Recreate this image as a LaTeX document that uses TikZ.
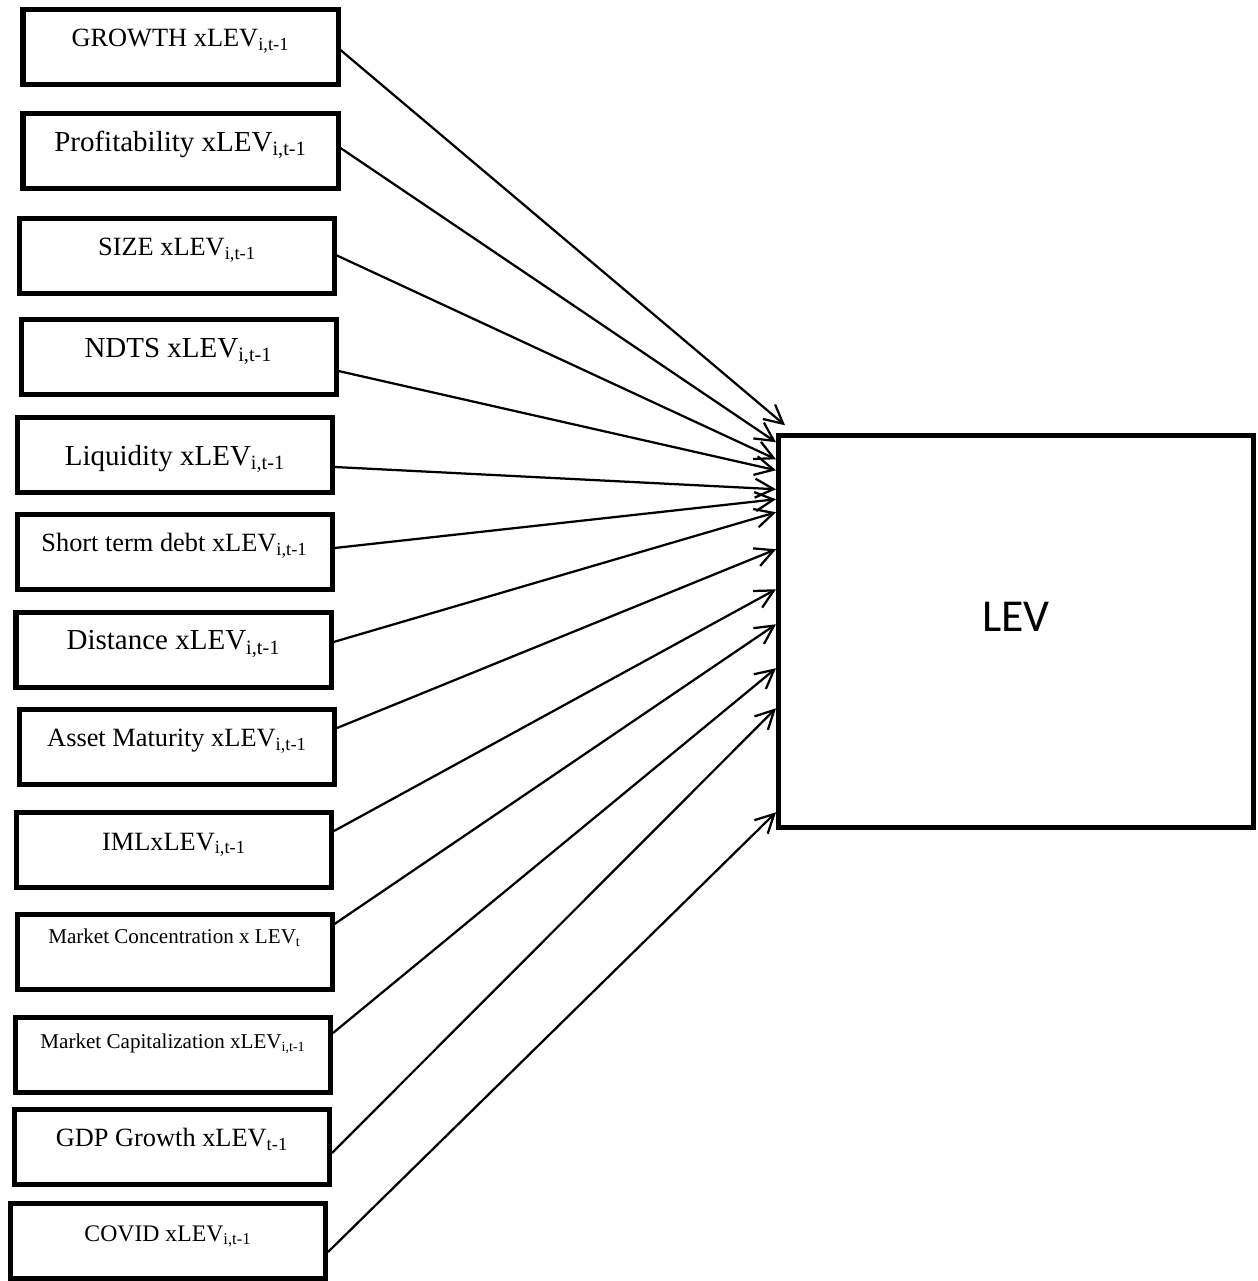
\documentclass[tikz,border=0pt]{standalone}
\usepackage{fontspec}
\setmainfont{Liberation Serif}
\newfontfamily\calibri{Carlito}
\usetikzlibrary{arrows.meta}

\begin{document}
\begin{tikzpicture}[
    factor/.style={rectangle,draw,line width=0.1cm,minimum width=6.3cm,minimum height=1.5cm,
      inner sep=0pt,text height=0.75cm,text depth=0.75cm,font=\fontsize{15}{18}\selectfont},
    bigtext/.style={font=\fontsize{16.5}{19}\selectfont},
    smalltext/.style={font=\fontsize{13.5}{16}\selectfont},
    tinytext/.style={font=\fontsize{12}{14}\selectfont},
    target/.style={rectangle,draw,line width=0.1cm,minimum width=9.5cm,minimum height=7.85cm,
      inner sep=0pt,text height=3.92cm,text depth=3.93cm,font=\calibri\fontsize{26}{30}\selectfont},
    arr/.style={-{Straight Barb[length=0.37cm,width=0.38cm]},line width=0.045cm}]

\useasboundingbox (0,0) rectangle (25.16,-25.62);

\node[factor] (growth) at (3.61,-0.93) {GROWTH xLEV\textsubscript{i,t-1}};
\node[factor,bigtext] (prof) at (3.61,-3.02) {Profitability xLEV\textsubscript{i,t-1}};
\node[factor] (size) at (3.54,-5.11) {SIZE xLEV\textsubscript{i,t-1}};
\node[factor,bigtext] (ndts) at (3.57,-7.14) {NDTS xLEV\textsubscript{i,t-1}};
\node[factor,bigtext,text height=0.95cm,text depth=0.55cm] (liq) at (3.50,-9.10) {Liquidity xLEV\textsubscript{i,t-1}};
\node[factor] (std) at (3.49,-11.03) {Short term debt xLEV\textsubscript{i,t-1}};
\node[factor,bigtext] (dist) at (3.47,-12.99) {Distance xLEV\textsubscript{i,t-1}};
\node[factor] (am) at (3.54,-14.93) {Asset Maturity xLEV\textsubscript{i,t-1}};
\node[factor] (iml) at (3.48,-17.00) {IMLxLEV\textsubscript{i,t-1}};
\node[factor,tinytext,text height=0.58cm,text depth=0.92cm] (mc) at (3.49,-19.03) {Market Concentration x LEV\textsubscript{t}};
\node[factor,tinytext,text height=0.62cm,text depth=0.88cm] (mcap) at (3.46,-21.09) {Market Capitalization xLEV\textsubscript{i,t-1}};
\node[factor] (gdp) at (3.44,-22.93) {GDP Growth xLEV\textsubscript{t-1}};
\node[factor,smalltext] (covid) at (3.36,-24.82) {COVID xLEV\textsubscript{i,t-1}};

\node[target] (lev) at (20.32,-12.63) {LEV};

\draw[arr] ([yshift=-0.07cm]growth.east) -- ([xshift=0.18cm,yshift=0.15cm]lev.north west);
\draw[arr] ([yshift=0.06cm]prof.east) -- ([yshift=-0.19cm]lev.north west);
\draw[arr] (size.east) -- ([yshift=-0.53cm]lev.north west);
\draw[arr] ([yshift=-0.28cm]ndts.east) -- ([yshift=-0.75cm]lev.north west);
\draw[arr] ([yshift=-0.24cm]liq.east) -- ([yshift=-1.13cm]lev.north west);
\draw[arr] ([yshift=0.07cm]std.east) -- ([yshift=-1.33cm]lev.north west);
\draw[arr] ([yshift=0.15cm]dist.east) -- ([yshift=-1.59cm]lev.north west);
\draw[arr] ([yshift=0.37cm]am.east) -- ([yshift=-2.33cm]lev.north west);
\draw[arr] ([yshift=0.38cm]iml.east) -- ([yshift=-3.13cm]lev.north west);
\draw[arr] ([yshift=0.55cm]mc.east) -- ([yshift=-3.83cm]lev.north west);
\draw[arr] ([yshift=0.43cm]mcap.east) -- ([yshift=-4.71cm]lev.north west);
\draw[arr] ([yshift=-0.13cm]gdp.east) -- ([yshift=-5.51cm]lev.north west);
\draw[arr] ([yshift=-0.22cm]covid.east) -- ([yshift=-7.59cm]lev.north west);
\end{tikzpicture}
\end{document}
